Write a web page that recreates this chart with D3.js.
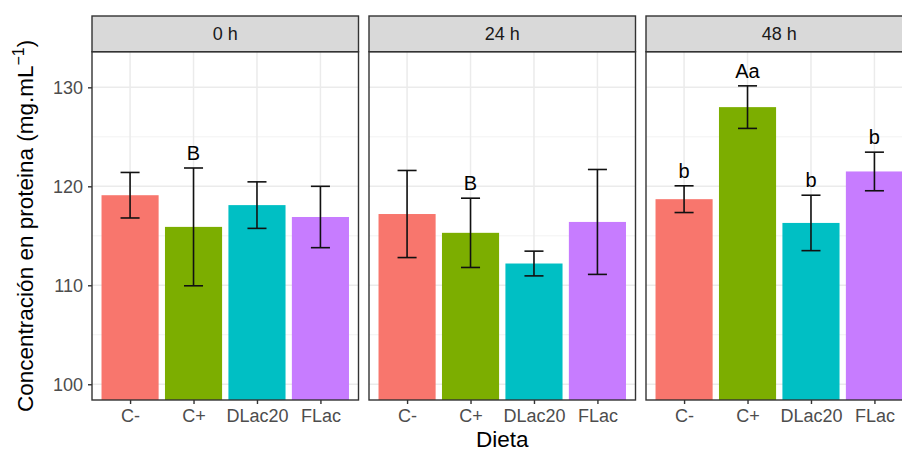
<!DOCTYPE html>
<html>
<head>
<meta charset="utf-8">
<script src="https://cdn.jsdelivr.net/npm/d3@7"></script>
<style>
	body { margin: 0; background: #fff; }
	svg { display: block; font-family: "Liberation Sans", Arial, sans-serif; }
</style>
</head>
<body>
<svg id="chart" width="902" height="453"></svg>
<script>
'use strict';

// data
const dietas = ['C-', 'C+', 'DLac20', 'FLac'];
const tiempos = ['0 h', '24 h', '48 h'];
const colores = ['#F8766D', '#7CAE00', '#00BFC4', '#C77CFF'];

const media0 = [119.1, 115.9, 118.1, 116.9];
const se0 = [2.3, 5.95, 2.35, 3.1];
const media24 = [117.2, 115.3, 112.2, 116.4];
const se24 = [4.4, 3.5, 1.25, 5.3];
const media48 = [118.7, 128.0, 116.3, 121.5];
const se48 = [1.35, 2.15, 2.8, 1.95];

const letras0 = ['', 'B', '', ''];
const letras24 = ['', 'B', '', ''];
const letras48 = ['b', 'Aa', 'b', 'b'];

const yTicks = [100, 110, 120, 130];
const yMinor = [105, 115, 125];

const paneles = [
	{tiempo: tiempos[0], media: media0, se: se0, letras: letras0},
	{tiempo: tiempos[1], media: media24, se: se24, letras: letras24},
	{tiempo: tiempos[2], media: media48, se: se48, letras: letras48}
];

// layout
const svg = d3.select('#chart');
const left = 92, panelW = 266.5, gap = 10.5;
const plotTop = 51.7, plotBottom = 400, stripH = 35.7;

const y = d3.scaleLinear().domain([98.41, 133.6]).range([plotBottom, plotTop]);

svg.append('rect').attr('width', 902).attr('height', 453).attr('fill', '#fff');

paneles.forEach((p, i) => {
	const x0 = left + i * (panelW + gap);
	const x = d3.scalePoint().domain(dietas).range([x0, x0 + panelW]).padding(0.6);
	const bw = x.step() * 0.9;
	const ew = x.step() * 0.3;
	const g = svg.append('g');

	// grid
	g.selectAll('.minor').data(yMinor).join('line')
		.attr('x1', x0).attr('x2', x0 + panelW)
		.attr('y1', d => y(d)).attr('y2', d => y(d))
		.attr('stroke', '#F2F2F2').attr('stroke-width', 1);
	g.selectAll('.major').data(yTicks).join('line')
		.attr('x1', x0).attr('x2', x0 + panelW)
		.attr('y1', d => y(d)).attr('y2', d => y(d))
		.attr('stroke', '#EBEBEB').attr('stroke-width', 1.5);
	g.selectAll('.vmajor').data(dietas).join('line')
		.attr('x1', d => x(d)).attr('x2', d => x(d))
		.attr('y1', plotTop).attr('y2', plotBottom)
		.attr('stroke', '#EBEBEB').attr('stroke-width', 1.5);

	// bars
	g.selectAll('.bar').data(dietas).join('rect')
		.attr('x', d => x(d) - bw / 2)
		.attr('width', bw)
		.attr('y', (d, j) => y(p.media[j]))
		.attr('height', (d, j) => plotBottom - y(p.media[j]))
		.attr('fill', (d, j) => colores[j]);

	// error bars
	const eb = g.selectAll('.eb').data(dietas).join('g')
		.attr('stroke', '#111').attr('stroke-width', 1.6);
	eb.append('line')
		.attr('x1', d => x(d)).attr('x2', d => x(d))
		.attr('y1', (d, j) => y(p.media[j] + p.se[j]))
		.attr('y2', (d, j) => y(p.media[j] - p.se[j]));
	eb.append('line')
		.attr('x1', d => x(d) - ew / 2).attr('x2', d => x(d) + ew / 2)
		.attr('y1', (d, j) => y(p.media[j] + p.se[j]))
		.attr('y2', (d, j) => y(p.media[j] + p.se[j]));
	eb.append('line')
		.attr('x1', d => x(d) - ew / 2).attr('x2', d => x(d) + ew / 2)
		.attr('y1', (d, j) => y(p.media[j] - p.se[j]))
		.attr('y2', (d, j) => y(p.media[j] - p.se[j]));

	// letters
	g.selectAll('.letra').data(dietas).join('text')
		.attr('x', d => x(d))
		.attr('y', (d, j) => y(p.media[j] + p.se[j]) - 8)
		.attr('text-anchor', 'middle')
		.attr('font-size', 20)
		.attr('fill', '#000')
		.text((d, j) => p.letras[j]);

	// border
	g.append('rect')
		.attr('x', x0).attr('y', plotTop)
		.attr('width', panelW).attr('height', plotBottom - plotTop)
		.attr('fill', 'none').attr('stroke', '#333').attr('stroke-width', 1.4);

	// strip
	g.append('rect')
		.attr('x', x0).attr('y', plotTop - stripH)
		.attr('width', panelW).attr('height', stripH)
		.attr('fill', '#D9D9D9').attr('stroke', '#333').attr('stroke-width', 1.4);
	g.append('text')
		.attr('x', x0 + panelW / 2).attr('y', plotTop - stripH / 2)
		.attr('dy', '0.35em')
		.attr('text-anchor', 'middle')
		.attr('font-size', 18)
		.attr('fill', '#1A1A1A')
		.text(p.tiempo);

	// x axis
	const xAxis = g.append('g')
		.attr('transform', `translate(0,${plotBottom})`)
		.call(d3.axisBottom(x).tickSize(4).tickPadding(5));
	xAxis.select('.domain').remove();
	xAxis.selectAll('line').attr('stroke', '#333').attr('stroke-width', 1.4);
	xAxis.selectAll('text').attr('font-size', 18).attr('fill', '#4D4D4D')
		.attr('font-family', null);
});

// y axis
const yAxis = svg.append('g')
	.attr('transform', `translate(${left},0)`)
	.call(d3.axisLeft(y).tickValues(yTicks).tickSize(4).tickPadding(5));
yAxis.select('.domain').remove();
yAxis.selectAll('line').attr('stroke', '#333').attr('stroke-width', 1.4);
yAxis.selectAll('text').attr('font-size', 18).attr('fill', '#4D4D4D')
	.attr('font-family', null);

// titles
svg.append('text')
	.attr('x', left + (3 * panelW + 2 * gap) / 2)
	.attr('y', 447)
	.attr('text-anchor', 'middle')
	.attr('font-size', 22.5)
	.attr('fill', '#000')
	.text('Dieta');

const yt = svg.append('text')
	.attr('transform', `translate(33,${(plotTop + plotBottom) / 2}) rotate(-90)`)
	.attr('text-anchor', 'middle')
	.attr('font-size', 22.5)
	.attr('fill', '#000');
yt.append('tspan').text('Concentración en proteina (mg.mL');
yt.append('tspan').attr('font-size', 16).attr('dy', -9).text('−1');
yt.append('tspan').attr('dy', 9).text(')');
</script>
</body>
</html>
